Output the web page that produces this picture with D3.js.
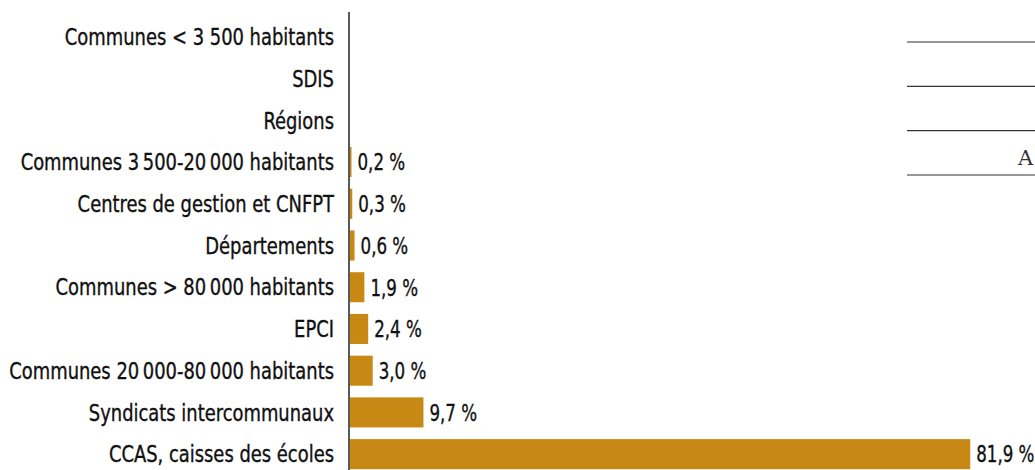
<!DOCTYPE html>
<html>
<head>
<meta charset="utf-8">
<script src="https://cdn.jsdelivr.net/npm/d3@7"></script>
<style>
  body { margin: 0; background: #fff; }
  svg { display: block; }
  .lbl { font-family: "DejaVu Sans Condensed", "Liberation Sans Narrow", sans-serif; font-size: 23px; fill: #111; stroke: #111; stroke-width: 0.35px; }
</style>
</head>
<body>
<div id="chart"></div>
<script>
const categories = [
  "Communes < 3 500 habitants",
  "SDIS",
  "Régions",
  "Communes 3\u202F500-20\u202F000 habitants",
  "Centres de gestion et CNFPT",
  "Départements",
  "Communes > 80\u202F000 habitants",
  "EPCI",
  "Communes 20\u202F000-80\u202F000 habitants",
  "Syndicats intercommunaux",
  "CCAS, caisses des écoles"
]
const values = [0, 0, 0, 0.2, 0.3, 0.6, 1.9, 2.4, 3.0, 9.7, 81.9]
const tableRows = ["", "", "", "A"]

const width = 1035
const height = 470
const fmt = v => d3.format(".1f")(v).replace(".", ",") + " %"

const svg = d3.select("#chart").append("svg")
    .attr("width", width)
    .attr("height", height)

const x = d3.scaleLinear().domain([0, 82]).range([350, 971])
const y = d3.scaleBand().domain(categories).range([16, 475])
    .paddingInner(0.28).paddingOuter(0.14)

// police étroite : on mesure le plus long libellé et on resserre à la largeur voulue
const probe = svg.append("text").attr("class", "lbl").text(categories[8])
const sx = 325 / probe.node().getComputedTextLength()
const sv = sx * 0.93
probe.remove()

svg.append("g").selectAll("rect")
  .data(values)
  .join("rect")
    .attr("x", x(0))
    .attr("y", (d, i) => y(categories[i]))
    .attr("width", d => x(d) - x(0))
    .attr("height", y.bandwidth())
    .attr("fill", "#c88914")

svg.append("g")
    .attr("transform", `scale(${sx},1)`)
  .selectAll("text")
  .data(categories)
  .join("text")
    .attr("class", "lbl")
    .attr("x", 334 / sx)
    .attr("y", d => y(d) + y.bandwidth() / 2)
    .attr("dy", "0.36em")
    .attr("text-anchor", "end")
    .text(d => d)

svg.append("g")
    .attr("transform", `scale(${sv},1)`)
  .selectAll("text")
  .data(values.map((v, i) => ({v, c: categories[i]})).filter(d => d.v > 0))
  .join("text")
    .attr("class", "lbl")
    .attr("x", d => (x(d.v) + 6) / sv)
    .attr("y", d => y(d.c) + y.bandwidth() / 2)
    .attr("dy", "0.36em")
    .text(d => fmt(d.v))

svg.append("line")
    .attr("x1", 349).attr("x2", 349)
    .attr("y1", 12).attr("y2", height)
    .attr("stroke", "#222").attr("stroke-width", 1.5)

// bout de tableau coupé à droite
const ty = d3.scaleLinear().domain([0, 3]).range([42, 175])
const tbl = svg.append("g")
tbl.selectAll("line")
  .data(tableRows)
  .join("line")
    .attr("x1", 907).attr("x2", width)
    .attr("y1", (d, i) => ty(i)).attr("y2", (d, i) => ty(i))
    .attr("stroke", "#333").attr("stroke-width", 1.2)
tbl.selectAll("text")
  .data(tableRows)
  .join("text")
    .attr("x", 1018)
    .attr("y", (d, i) => ty(i) - 10)
    .attr("font-family", "DejaVu Serif, serif")
    .attr("font-size", 21)
    .attr("fill", "#333")
    .text(d => d)
</script>
</body>
</html>
